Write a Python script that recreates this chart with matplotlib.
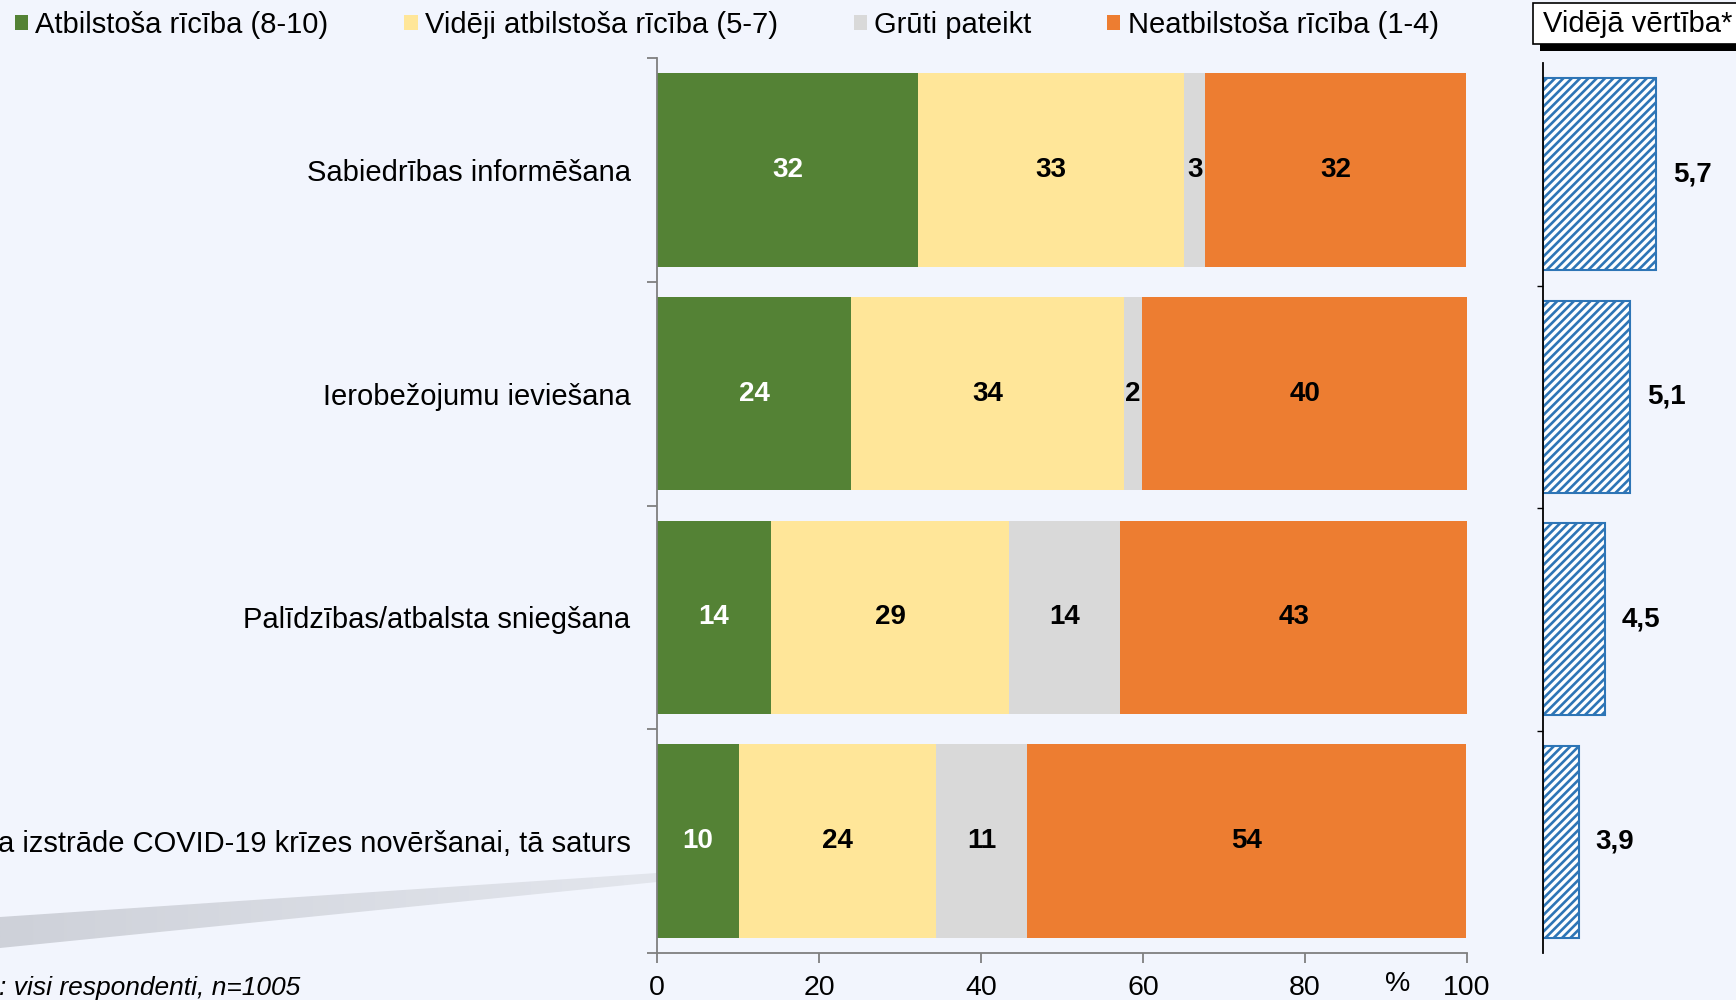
import numpy as np
import matplotlib
matplotlib.use("Agg")
import matplotlib.pyplot as plt
from matplotlib.patches import Rectangle, Polygon

plt.rcParams['font.family'] = ['Liberation Sans', 'DejaVu Sans']
plt.rcParams['hatch.linewidth'] = 1.9

# -------------------------
# Data
# -------------------------
categories = [
    "Sabiedrības informēšana",
    "Ierobežojumu ieviešana",
    "Palīdzības/atbalsta sniegšana",
    "a izstrāde COVID-19 krīzes novēršanai, tā saturs",
]
good = [32.2, 24.0, 14.1, 10.1]       # Atbilstoša rīcība (8-10)
medium = [32.9, 33.6, 29.4, 24.4]     # Vidēji atbilstoša rīcība (5-7)
hard = [2.6, 2.3, 13.6, 11.2]         # Grūti pateikt
bad = [32.2, 40.2, 43.0, 54.2]        # Neatbilstoša rīcība (1-4)
avg = [5.7, 5.1, 4.5, 3.9]            # Vidējā vērtība*

series_names = ["Atbilstoša rīcība (8-10)", "Vidēji atbilstoša rīcība (5-7)",
                "Grūti pateikt", "Neatbilstoša rīcība (1-4)"]
series_colors = ["#548235", "#FFE699", "#D9D9D9", "#ED7D31"]
label_colors = ["white", "black", "black", "black"]
xticks = [0, 20, 40, 60, 80, 100]
base_note = ": visi respondenti, n=1005"

BG = "#F2F5FD"
W, H = 1736, 1000

fig = plt.figure(figsize=(W / 100, H / 100), dpi=100, facecolor=BG)


def fx(px):
    return px / W


def fy(py):
    return 1 - py / H


# decoration band bottom-left (gradient clipped to a polygon)
deco = fig.add_axes([0, 0, 1, 1], zorder=0)
deco.set_xlim(0, W)
deco.set_ylim(H, 0)
deco.axis('off')
grad = np.linspace(0, 1, 256)[None, :]
cmap = matplotlib.colors.LinearSegmentedColormap.from_list("g", ["#CED1D9", "#E3E6ED"])
img = deco.imshow(grad, extent=[0, 657, 960, 860], cmap=cmap, aspect='auto', zorder=0)
band = Polygon([(0, 917), (657, 873), (657, 882), (0, 948)], closed=True,
               facecolor='none', edgecolor='none')
deco.add_patch(band)
img.set_clip_path(band)

# -------------------------
# Main stacked bar axes
# -------------------------
ax = fig.add_axes([fx(657), fy(953), fx(1467) - fx(657), fy(58) - fy(953)], zorder=2)
ax.set_facecolor('none')
y = np.arange(len(categories))
stacks = [good, medium, hard, bad]
left = np.zeros(len(categories))
for vals, name, col, lcol in zip(stacks, series_names, series_colors, label_colors):
    vals = np.array(vals)
    ax.barh(y, vals, left=left, height=0.865, color=col, label=name, linewidth=0)
    for yi, (l, v) in enumerate(zip(left, vals)):
        ax.text(l + v / 2, yi, f"{v:.0f}", ha='center', va='center',
                fontsize=20, fontweight='bold', color=lcol)
    left = left + vals

ax.set_xlim(0, 100)
ax.set_ylim(len(categories) - 0.5, -0.5)
ax.set_xticks(xticks)
ax.set_xticklabels([str(t) for t in xticks], fontsize=20.5)
ax.tick_params(axis='x', direction='out', length=7, width=1.3, color='#7F7F7F', pad=9)
ax.set_yticks(np.arange(len(categories) + 1) - 0.5)
ax.set_yticklabels([])
ax.set_yticks(y, minor=True)
ax.set_yticklabels(categories, minor=True, fontsize=21)
ax.tick_params(axis='y', which='major', direction='out', length=7, width=1.3, color='#7F7F7F')
ax.tick_params(axis='y', which='minor', length=0, pad=19)
for s in ['top', 'right']:
    ax.spines[s].set_visible(False)
for s in ['left', 'bottom']:
    ax.spines[s].set_color('#7F7F7F')
    ax.spines[s].set_linewidth(1.3)
fig.text(fx(1398), fy(984), "%", ha='center', va='center', fontsize=20.5)

# -------------------------
# Average value axes
# -------------------------
ax2 = fig.add_axes([fx(1543), fy(953), 1 - fx(1543), fy(63) - fy(953)], zorder=2)
ax2.set_facecolor('none')
x0 = 3.06
ax2.set_xlim(x0, x0 + (W - 1543) / 42.8)
ax2.set_ylim(len(categories) - 0.5, -0.5)
ax2.barh(y, np.array(avg) - x0, left=x0, height=0.865, facecolor='white',
         edgecolor='#2E75B6', hatch='////', linewidth=1.5)
for yi, v in enumerate(avg):
    ax2.annotate(f"{v:.1f}".replace('.', ','), (v, yi), xytext=(12, 0),
                 textcoords='offset points', ha='left', va='center',
                 fontsize=20, fontweight='bold')
ax2.set_xticks([])
ax2.set_yticks(np.arange(1, len(categories)) - 0.5)
ax2.set_yticklabels([])
ax2.tick_params(axis='y', direction='out', length=4, width=1, color='black')
for s in ['top', 'right', 'bottom']:
    ax2.spines[s].set_visible(False)
ax2.spines['left'].set_color('black')
ax2.spines['left'].set_linewidth(1.3)

# -------------------------
# Legend and headers
# -------------------------
handles, labels = ax.get_legend_handles_labels()
fig.legend(handles, labels, loc='upper left', bbox_to_anchor=(fx(15), fy(11)), ncol=4,
           frameon=False, fontsize=21, handlelength=0.45, handleheight=0.45,
           handletextpad=0.25, columnspacing=2.6, borderpad=0, borderaxespad=0)

fig.patches.append(Rectangle((fx(1540), fy(51)), 1, fy(5) - fy(51), transform=fig.transFigure,
                             facecolor='black', edgecolor='none', zorder=5))
fig.patches.append(Rectangle((fx(1533), fy(44)), 1, fy(3) - fy(44), transform=fig.transFigure,
                             facecolor='white', edgecolor='black', linewidth=1.2, zorder=6))
fig.text(fx(1543), fy(24), "Vidējā vērtība*", ha='left', va='center', fontsize=21, zorder=7)

fig.text(fx(-1), fy(988), base_note, ha='left', va='center', fontsize=19, style='italic')

fig.savefig("out.png", dpi=100, facecolor=BG)
